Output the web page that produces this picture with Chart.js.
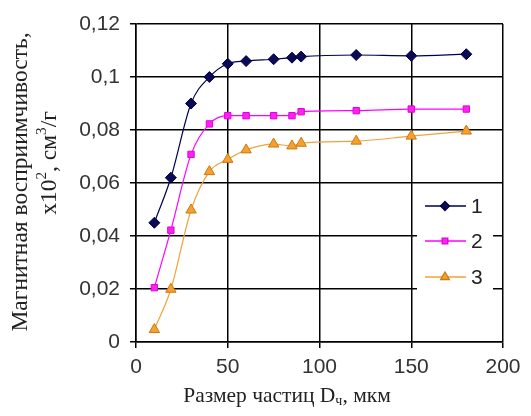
<!DOCTYPE html>
<html><head><meta charset="utf-8">
<script src="https://cdn.jsdelivr.net/npm/chart.js@4"></script>
<style>html,body{margin:0;background:#fff}#wrap{width:531px;height:416px}</style>
</head><body><div id="wrap"><canvas id="c" width="531" height="416"></canvas></div>
<script>
// particle size, um
const sizes=[10,19,30,40,50,60,75,85,90,120,150,180];
const s1=[0.045,0.062,0.090,0.100,0.105,0.106,0.1067,0.1073,0.1077,0.1083,0.108,0.1086];
const s2=[0.0205,0.0422,0.0708,0.0823,0.0854,0.0854,0.0854,0.0854,0.0869,0.0873,0.0879,0.0879];
const s3=[0.0047,0.0199,0.0498,0.0643,0.0689,0.0725,0.0747,0.0740,0.0750,0.0758,0.0777,0.0796];
const seriesNames=['1','2','3'];
const xTicks=[0,50,100,150,200];
const yTicks=[0,0.02,0.04,0.06,0.08,0.1,0.12];

const SANS='"Liberation Sans", Arial, sans-serif';
const SERIF='"Liberation Serif", "Times New Roman", serif';

function pts(arr){ return sizes.map((x,i)=>({x,y:arr[i]})); }
function fmtY(v){ return v===0?'0':String(+v.toFixed(2)).replace('.',','); }

const styles=[
  {line:'#000050',fill:'#0a0a55',border:'#000040',shape:'rectRot',r:5.5,lr:4.5},
  {line:'#ff00ff',fill:'#ff22ee',border:'#e000e0',shape:'rect',r:4.5,lr:4},
  {line:'#f2a23c',fill:'#f5a030',border:'#c97a10',shape:'triangle',r:6,lr:5}
];

// draws a run of text with optional sub/superscript parts
function drawRuns(ctx,runs,size,cx,cy){
  let w=0;
  runs.forEach(r=>{ ctx.font=(r.s?size*0.65:size)+'px '+SERIF; w+=ctx.measureText(r.t).width; });
  let x=cx-w/2;
  ctx.textAlign='left'; ctx.textBaseline='middle';
  runs.forEach(r=>{
    const sz=r.s?size*0.65:size;
    ctx.font=sz+'px '+SERIF;
    const dy=r.s==='sub'?size*0.25:(r.s==='sup'?-size*0.35:0);
    ctx.fillText(r.t,x,cy+dy);
    x+=ctx.measureText(r.t).width;
  });
}

const titles={
  id:'titles',
  afterDraw(chart){
    const ctx=chart.ctx; ctx.save(); ctx.fillStyle='#222';
    drawRuns(ctx,[{t:'Размер частиц D'},{t:'ч',s:'sub'},{t:', мкм'}],21.5,287,396);
    ctx.translate(21,182); ctx.rotate(-Math.PI/2);
    drawRuns(ctx,[{t:'Магнитная восприимчивость,'}],23.5,0,0);
    ctx.restore(); ctx.save(); ctx.fillStyle='#222';
    ctx.translate(50,163); ctx.rotate(-Math.PI/2);
    drawRuns(ctx,[{t:'x10'},{t:'2',s:'sup'},{t:', см'},{t:'3',s:'sup'},{t:'/г'}],23.5,0,0);
    ctx.restore();
  }
};

const legendBox={
  id:'legendBox',
  afterDatasetsDraw(chart){
    const ctx=chart.ctx; ctx.save();
    ctx.fillStyle='#fff'; ctx.fillRect(417,189,76,108);
    const ys=[206,241,277];
    chart.data.datasets.forEach((ds,i)=>{
      const st=styles[i]; const y=ys[i];
      ctx.strokeStyle=st.line; ctx.lineWidth=1.3;
      ctx.beginPath(); ctx.moveTo(425,y); ctx.lineTo(466,y); ctx.stroke();
      ctx.fillStyle=st.fill; ctx.strokeStyle=st.border;
      Chart.helpers.drawPoint(ctx,{pointStyle:st.shape,radius:st.lr,rotation:0,borderWidth:1},445,y);
      ctx.fillStyle='#222'; ctx.font='21px '+SANS; ctx.textAlign='left'; ctx.textBaseline='middle';
      ctx.fillText(ds.label,471,y+1);
    });
    ctx.restore();
  }
};

new Chart(document.getElementById('c'),{
  type:'line',
  data:{datasets:[s1,s2,s3].map((arr,i)=>({
    label:seriesNames[i],data:pts(arr),
    borderColor:styles[i].line,borderWidth:1.2,
    pointStyle:styles[i].shape,pointRadius:styles[i].r,
    pointBackgroundColor:styles[i].fill,pointBorderColor:styles[i].border,pointBorderWidth:1,
    cubicInterpolationMode:'monotone',fill:false
  }))},
  options:{
    responsive:false,animation:false,devicePixelRatio:1,
    layout:{padding:{top:24,right:28,left:0,bottom:0}},
    plugins:{legend:{display:false},tooltip:{enabled:false}},
    scales:{
      x:{type:'linear',min:0,max:200,
        afterBuildTicks:s=>{s.ticks=xTicks.map(v=>({value:v}));},
        afterFit:s=>{s.height=74;},
        grid:{color:'#000',lineWidth:1.5,tickLength:6},
        border:{color:'#000',width:1.5},
        ticks:{color:'#333',font:{family:SANS,size:21},padding:7,maxRotation:0}
      },
      y:{min:0,max:0.12,
        afterBuildTicks:s=>{s.ticks=yTicks.map(v=>({value:v}));},
        afterFit:s=>{s.width=136;},
        grid:{color:'#000',lineWidth:1.5,tickLength:6},
        border:{color:'#000',width:1.5},
        ticks:{color:'#333',font:{family:SANS,size:21},padding:10,callback:fmtY}
      }
    }
  },
  plugins:[titles,legendBox]
});
</script>
</body></html>
